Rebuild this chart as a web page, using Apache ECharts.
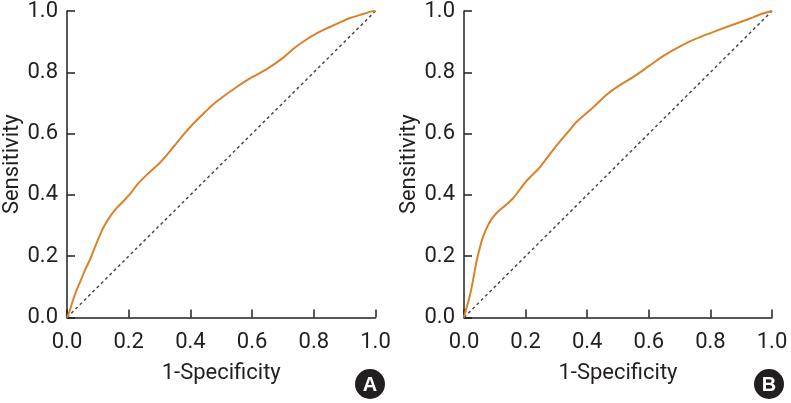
<!DOCTYPE html>
<html><head><meta charset="utf-8">
<script src="https://cdn.jsdelivr.net/npm/echarts@6/dist/echarts.min.js"></script>
<style>html,body{margin:0;padding:0;background:#fff}#c{width:791px;height:403px}</style>
</head><body><div id="c"></div>
<script>
const xTicks = [0, 0.2, 0.4, 0.6, 0.8, 1.0];
const yTicks = [0, 0.2, 0.4, 0.6, 0.8, 1.0];
const rocA = [[0,0],[0.005,0.012],[0.01,0.026],[0.02,0.058],[0.031,0.089],[0.045,0.122],[0.058,0.154],[0.075,0.19],[0.09,0.228],[0.105,0.265],[0.12,0.298],[0.14,0.33],[0.16,0.356],[0.188,0.385],[0.21,0.41],[0.226,0.432],[0.26,0.467],[0.301,0.505],[0.34,0.55],[0.377,0.596],[0.41,0.633],[0.442,0.665],[0.47,0.692],[0.5,0.716],[0.55,0.752],[0.593,0.78],[0.65,0.812],[0.701,0.848],[0.734,0.877],[0.77,0.903],[0.809,0.927],[0.85,0.947],[0.885,0.963],[0.92,0.978],[0.96,0.99],[0.985,0.998],[1,1]];
const rocB = [[0,0],[0.005,0.02],[0.012,0.045],[0.02,0.075],[0.03,0.125],[0.04,0.18],[0.05,0.222],[0.06,0.258],[0.075,0.295],[0.09,0.322],[0.11,0.345],[0.135,0.366],[0.16,0.39],[0.18,0.416],[0.203,0.446],[0.246,0.49],[0.28,0.535],[0.311,0.574],[0.34,0.608],[0.365,0.638],[0.419,0.685],[0.462,0.726],[0.506,0.758],[0.55,0.785],[0.6,0.82],[0.65,0.855],[0.7,0.884],[0.75,0.908],[0.8,0.928],[0.85,0.947],[0.9,0.965],[0.94,0.98],[0.97,0.992],[1,1]];
const diagonal = [[0,0],[1,1]];
const panelLabels = ['A','B'];
const xName = '1-Specificity';
const yName = 'Sensitivity';

const FONT = "'Liberation Sans Narrow','Roboto','DejaVu Sans Condensed',sans-serif";
const AX = '#231f20';
const chart = echarts.init(document.getElementById('c'), null, {renderer:'canvas'});
const grids = [{left:67, top:9.5, width:308.5, height:308},{left:464, top:9.5, width:308, height:308}];
function xAxis(i){return {gridIndex:i,type:'value',min:0,max:1,interval:0.2,name:xName,nameLocation:'middle',nameGap:45,
  nameTextStyle:{fontFamily:FONT,fontSize:22,color:AX},
  axisLine:{lineStyle:{color:AX,width:1.5}},axisTick:{inside:true,length:8,lineStyle:{color:AX,width:1.5}},
  axisLabel:{margin:14,fontFamily:FONT,fontSize:22,color:AX,formatter:v=>v.toFixed(1)},splitLine:{show:false}};}
function yAxis(i){return {gridIndex:i,type:'value',min:0,max:1,interval:0.2,name:yName,nameLocation:'middle',nameGap:43,
  nameTextStyle:{fontFamily:FONT,fontSize:22,color:AX},
  axisLine:{show:true,lineStyle:{color:AX,width:1.5}},axisTick:{show:true,inside:true,length:8,lineStyle:{color:AX,width:1.5}},
  axisLabel:{margin:9,fontFamily:FONT,fontSize:22,color:AX,formatter:v=>v.toFixed(1)},splitLine:{show:false}};}
const series=[];
[rocA,rocB].forEach((d,i)=>{
  series.push({type:'line',xAxisIndex:i,yAxisIndex:i,data:diagonal,symbol:'none',silent:true,
    lineStyle:{color:'#4a4a4a',width:1.5,type:[3,3]}});
  series.push({type:'line',xAxisIndex:i,yAxisIndex:i,data:d,symbol:'none',silent:true,smooth:0.3,
    lineStyle:{color:'#d9822b',width:2}});
});
const badgeX=[370,769];
const graphic=panelLabels.map((t,i)=>({type:'group',left:badgeX[i]-15,top:369,children:[
  {type:'circle',shape:{cx:15,cy:15,r:15},style:{fill:AX}},
  {type:'text',x:15,y:16,style:{text:t,fill:'#fff',font:"bold 20px 'Liberation Sans','DejaVu Sans',sans-serif",textAlign:'center',textVerticalAlign:'middle'}}
]}));
chart.setOption({animation:false,grid:grids,xAxis:[xAxis(0),xAxis(1)],yAxis:[yAxis(0),yAxis(1)],series,graphic});
</script></body></html>
